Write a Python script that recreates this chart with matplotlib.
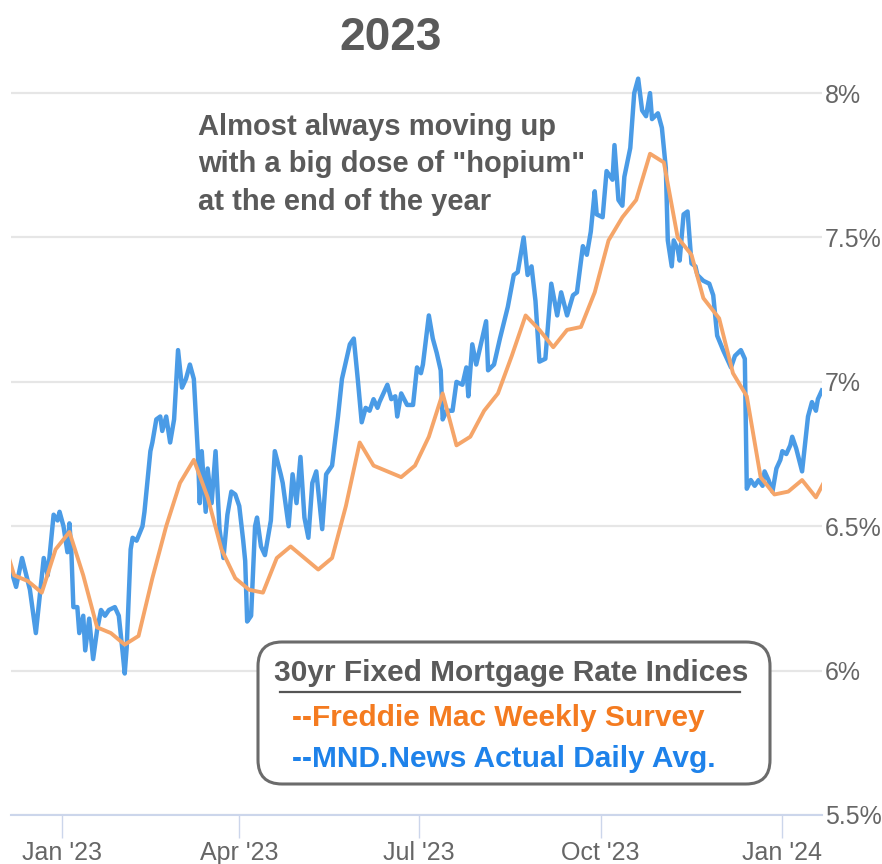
import matplotlib
matplotlib.use('Agg')
import matplotlib.pyplot as plt
import matplotlib.dates as mdates
from matplotlib.patches import FancyBboxPatch
from matplotlib.lines import Line2D
from matplotlib.ticker import FuncFormatter
from matplotlib.transforms import Affine2D
import pandas as pd

W, H = 882, 864

# Freddie Mac weekly survey (Thursdays)
freddie_dates = [
    '2022-12-01', '2022-12-08', '2022-12-15', '2022-12-22', '2022-12-29',
    '2023-01-05', '2023-01-12', '2023-01-19', '2023-01-26', '2023-02-02',
    '2023-02-09', '2023-02-16', '2023-02-23', '2023-03-02', '2023-03-09',
    '2023-03-16', '2023-03-23', '2023-03-30', '2023-04-06', '2023-04-13',
    '2023-04-20', '2023-04-27', '2023-05-04', '2023-05-11', '2023-05-18',
    '2023-05-25', '2023-06-01', '2023-06-08', '2023-06-15', '2023-06-22',
    '2023-06-29', '2023-07-06', '2023-07-13', '2023-07-20', '2023-07-27',
    '2023-08-03', '2023-08-10', '2023-08-17', '2023-08-24', '2023-08-31',
    '2023-09-07', '2023-09-14', '2023-09-21', '2023-09-28', '2023-10-05',
    '2023-10-12', '2023-10-19', '2023-10-26', '2023-11-02', '2023-11-09',
    '2023-11-16', '2023-11-22', '2023-11-30', '2023-12-07', '2023-12-14',
    '2023-12-21', '2023-12-28', '2024-01-04', '2024-01-11', '2024-01-18',
    '2024-01-25']
freddie_rates = [
    6.49, 6.33, 6.31, 6.27, 6.42, 6.48, 6.33, 6.15, 6.13, 6.09,
    6.12, 6.32, 6.50, 6.65, 6.73, 6.60, 6.42, 6.32, 6.28, 6.27,
    6.39, 6.43, 6.39, 6.35, 6.39, 6.57, 6.79, 6.71, 6.69, 6.67,
    6.71, 6.81, 6.96, 6.78, 6.81, 6.90, 6.96, 7.09, 7.23, 7.18,
    7.12, 7.18, 7.19, 7.31, 7.49, 7.57, 7.63, 7.79, 7.76, 7.50,
    7.44, 7.29, 7.22, 7.03, 6.95, 6.67, 6.61, 6.62, 6.66, 6.60,
    6.69]

# MND daily index
mnd_dates = [
    '2022-12-06', '2022-12-09', '2022-12-12', '2022-12-16', '2022-12-19', '2022-12-23', '2022-12-25', '2022-12-28', '2022-12-30', '2022-12-31',
    '2023-01-02', '2023-01-04', '2023-01-05', '2023-01-06', '2023-01-07', '2023-01-09', '2023-01-10', '2023-01-12', '2023-01-13', '2023-01-15',
    '2023-01-17', '2023-01-19', '2023-01-21', '2023-01-23', '2023-01-25', '2023-01-28', '2023-01-30', '2023-02-01', '2023-02-02', '2023-02-03',
    '2023-02-05', '2023-02-06', '2023-02-08', '2023-02-11', '2023-02-12', '2023-02-15', '2023-02-16', '2023-02-18', '2023-02-20', '2023-02-21',
    '2023-02-23', '2023-02-25', '2023-02-27', '2023-03-01', '2023-03-03', '2023-03-05', '2023-03-07', '2023-03-09', '2023-03-11', '2023-03-12',
    '2023-03-13', '2023-03-15', '2023-03-16', '2023-03-18', '2023-03-20', '2023-03-22', '2023-03-24', '2023-03-26', '2023-03-28', '2023-03-30',
    '2023-04-01', '2023-04-03', '2023-04-04', '2023-04-05', '2023-04-07', '2023-04-09', '2023-04-10', '2023-04-12', '2023-04-14', '2023-04-17',
    '2023-04-19', '2023-04-22', '2023-04-23', '2023-04-26', '2023-04-28', '2023-04-30', '2023-05-02', '2023-05-04', '2023-05-06', '2023-05-08',
    '2023-05-10', '2023-05-13', '2023-05-15', '2023-05-18', '2023-05-21', '2023-05-23', '2023-05-27', '2023-05-29', '2023-05-31', '2023-06-02',
    '2023-06-04', '2023-06-06', '2023-06-08', '2023-06-10', '2023-06-11', '2023-06-15', '2023-06-17', '2023-06-19', '2023-06-20', '2023-06-22',
    '2023-06-25', '2023-06-28', '2023-06-30', '2023-07-02', '2023-07-03', '2023-07-06', '2023-07-08', '2023-07-10', '2023-07-12', '2023-07-13',
    '2023-07-15', '2023-07-18', '2023-07-20', '2023-07-23', '2023-07-25', '2023-07-26', '2023-07-28', '2023-07-30', '2023-08-01', '2023-08-04',
    '2023-08-05', '2023-08-08', '2023-08-11', '2023-08-15', '2023-08-18', '2023-08-20', '2023-08-23', '2023-08-25', '2023-08-27', '2023-08-29',
    '2023-08-31', '2023-09-03', '2023-09-06', '2023-09-09', '2023-09-11', '2023-09-14', '2023-09-17', '2023-09-19', '2023-09-22', '2023-09-24',
    '2023-09-26', '2023-09-28', '2023-09-29', '2023-10-02', '2023-10-04', '2023-10-07', '2023-10-08', '2023-10-10', '2023-10-12', '2023-10-13',
    '2023-10-16', '2023-10-18', '2023-10-20', '2023-10-22', '2023-10-24', '2023-10-26', '2023-10-27', '2023-10-30', '2023-11-01', '2023-11-03',
    '2023-11-04', '2023-11-06', '2023-11-07', '2023-11-09', '2023-11-10', '2023-11-12', '2023-11-14', '2023-11-16', '2023-11-18', '2023-11-19',
    '2023-11-22', '2023-11-25', '2023-11-27', '2023-11-29', '2023-12-02', '2023-12-04', '2023-12-06', '2023-12-08', '2023-12-11', '2023-12-13',
    '2023-12-14', '2023-12-16', '2023-12-18', '2023-12-20', '2023-12-22', '2023-12-23', '2023-12-25', '2023-12-27', '2023-12-29', '2023-12-31',
    '2024-01-01', '2024-01-03', '2024-01-05', '2024-01-06', '2024-01-08', '2024-01-11', '2024-01-14', '2024-01-16', '2024-01-18', '2024-01-19',
    '2024-01-21']
mnd_rates = [
    6.36, 6.29, 6.39, 6.28, 6.13, 6.39, 6.33, 6.54, 6.52, 6.55,
    6.50, 6.41, 6.51, 6.41, 6.22, 6.22, 6.13, 6.19, 6.07, 6.18,
    6.04, 6.14, 6.21, 6.19, 6.21, 6.22, 6.19, 6.06, 5.99, 6.08,
    6.42, 6.46, 6.45, 6.50, 6.55, 6.76, 6.79, 6.87, 6.88, 6.83,
    6.88, 6.79, 6.87, 7.11, 6.98, 7.01, 7.06, 7.01, 6.76, 6.58,
    6.76, 6.55, 6.70, 6.58, 6.76, 6.49, 6.39, 6.54, 6.62, 6.61,
    6.57, 6.45, 6.38, 6.17, 6.19, 6.50, 6.53, 6.43, 6.40, 6.52,
    6.76, 6.68, 6.65, 6.50, 6.68, 6.58, 6.74, 6.53, 6.46, 6.65,
    6.69, 6.49, 6.68, 6.71, 6.88, 7.01, 7.13, 7.15, 7.01, 6.86,
    6.91, 6.90, 6.94, 6.91, 6.93, 6.99, 6.94, 6.95, 6.88, 6.96,
    6.92, 6.92, 7.05, 7.03, 7.06, 7.23, 7.15, 7.10, 7.04, 6.87,
    6.90, 6.90, 7.00, 6.99, 7.05, 6.95, 7.13, 7.06, 7.12, 7.21,
    7.04, 7.06, 7.15, 7.26, 7.37, 7.38, 7.50, 7.37, 7.40, 7.28,
    7.07, 7.08, 7.34, 7.23, 7.31, 7.23, 7.30, 7.31, 7.47, 7.44,
    7.52, 7.66, 7.58, 7.57, 7.73, 7.70, 7.82, 7.63, 7.61, 7.71,
    7.81, 8.00, 8.05, 7.94, 7.92, 8.00, 7.91, 7.93, 7.88, 7.74,
    7.49, 7.40, 7.49, 7.46, 7.42, 7.58, 7.59, 7.41, 7.40, 7.37,
    7.35, 7.34, 7.30, 7.16, 7.11, 7.08, 7.05, 7.09, 7.11, 7.08,
    6.63, 6.66, 6.64, 6.66, 6.64, 6.69, 6.66, 6.62, 6.70, 6.73,
    6.76, 6.75, 6.78, 6.81, 6.77, 6.69, 6.88, 6.93, 6.90, 6.94,
    6.97]

y_ticks = [5.5, 6, 6.5, 7, 7.5, 8]
title = '2023'
note_lines = ['Almost always moving up',
              'with a big dose of "hopium"',
              'at the end of the year']
legend_title = '30yr Fixed Mortgage Rate Indices'
legend_items = ['--Freddie Mac Weekly Survey', '--MND.News Actual Daily Avg.']

plt.rcParams['font.family'] = ['Liberation Sans', 'DejaVu Sans']

fig = plt.figure(figsize=(W / 100, H / 100), dpi=100)
ax = fig.add_axes([11 / W, 1 - 815 / H, (822 - 11) / W, (815 - 70) / H])
# pixel coords, origin at top-left
px = Affine2D().scale(1, -1).translate(0, H)

ax.plot(pd.to_datetime(mnd_dates), mnd_rates, color='#4a9be6', lw=3.2,
        solid_joinstyle='round', zorder=3)
ax.plot(pd.to_datetime(freddie_dates), freddie_rates, color='#f5a569', lw=2.8,
        solid_joinstyle='round', zorder=4)

ax.set_xlim(pd.Timestamp('2022-12-06 10:00'), pd.Timestamp('2024-01-21 02:00'))
ax.set_ylim(5.5, 8.08)

ax.xaxis.set_major_locator(mdates.MonthLocator(bymonth=[1, 4, 7, 10]))
ax.xaxis.set_major_formatter(mdates.DateFormatter("%b '%y"))
ax.set_yticks(y_ticks)
ax.yaxis.set_major_formatter(FuncFormatter(lambda v, p: f'{v:g}%'))
ax.yaxis.tick_right()

ax.tick_params(axis='x', length=16.5, width=1, color='#ccd6eb', labelsize=18,
               labelcolor='#666666', pad=2.5)
ax.tick_params(axis='y', length=0, pad=2, labelsize=18, labelcolor='#666666')

ax.grid(axis='y', color='#e6e6e6', lw=1.6)
ax.set_axisbelow(True)
for s in ['top', 'left', 'right']:
    ax.spines[s].set_visible(False)
ax.spines['bottom'].set_color('#ccd6eb')
ax.spines['bottom'].set_linewidth(1.5)

fig.text(391, 38, title, transform=px, ha='center', va='center',
         fontsize=33, fontweight='bold', color='#5a5a5a')

for i, line in enumerate(note_lines):
    fig.text(198, 135 + i * 37.5, line, transform=px, ha='left', va='baseline',
             fontsize=21, fontweight='bold', color='#5a5a5a')

box = FancyBboxPatch((258, 642), 512, 142, boxstyle='round,pad=0,rounding_size=24',
                     transform=px, facecolor='white', edgecolor='#6b6b6b', lw=2.2,
                     zorder=5)
fig.add_artist(box)
fig.text(274, 681, legend_title, transform=px, ha='left', va='baseline',
         fontsize=21.5, fontweight='bold', color='#5a5a5a', zorder=6)
fig.add_artist(Line2D([280, 740], [692, 692], transform=px, color='#555555',
                      lw=1.6, zorder=6))
fig.text(292, 726, legend_items[0], transform=px, ha='left', va='baseline',
         fontsize=21.5, fontweight='bold', color='#f47b20', zorder=6)
fig.text(292, 767, legend_items[1], transform=px, ha='left', va='baseline',
         fontsize=21.5, fontweight='bold', color='#1e82ea', zorder=6)

plt.savefig('out.png', dpi=100)
